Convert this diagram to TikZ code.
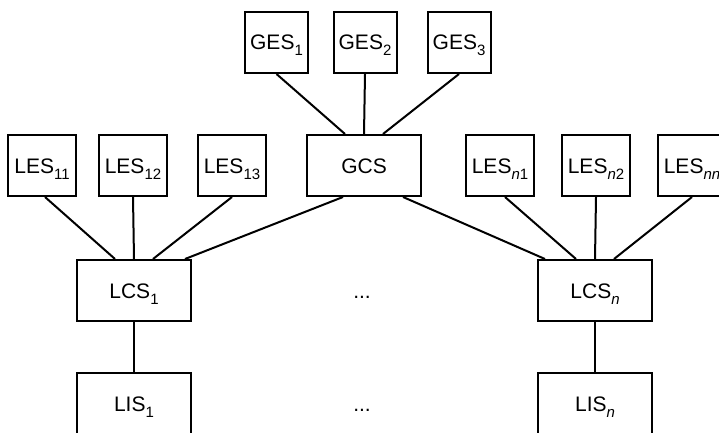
\documentclass[tikz,border=0pt]{standalone}
\usepackage{fontspec}
\setmainfont{Liberation Sans}
\usetikzlibrary{calc}
\newcommand{\sbx}[1]{\raisebox{-6pt}{\fontsize{15}{15}\selectfont #1}}
\begin{document}
\begin{tikzpicture}[x=1pt,y=-1pt,
  box/.style={draw,line width=2pt,inner sep=0pt,minimum height=61pt,
    text height=15pt,text depth=0pt,font=\fontsize{21}{24}\selectfont},
  sbox/.style={box,minimum width=63pt},
  lbox/.style={box,minimum width=68pt},
  wbox/.style={box,minimum width=114pt},
  dots/.style={inner sep=0pt,text height=15pt,text depth=0pt,font=\fontsize{21}{24}\selectfont},
  link/.style={line width=2pt}]
\useasboundingbox (0,0) rectangle (719,433);
\clip (0,0) rectangle (719,433);
% global level
\node[sbox] (GES1) at (276.5,42.5) {GES\sbx{1}};
\node[sbox] (GES2) at (365,42.5) {GES\sbx{2}};
\node[sbox] (GES3) at (459,42.5) {GES\sbx{3}};
\node[wbox] (GCS) at (364,165.5) {GCS};
% local element systems
\node[lbox] (LES11) at (42,165.5) {LES\sbx{11}};
\node[lbox] (LES12) at (133,165.5) {LES\sbx{12}};
\node[lbox] (LES13) at (232,165.5) {LES\sbx{13}};
\node[lbox] (LESn1) at (500,165.5) {LES\sbx{\textit{n}1}};
\node[lbox] (LESn2) at (596,165.5) {LES\sbx{\textit{n}2}};
\node[lbox] (LESnn) at (692,165.5) {LES\sbx{\textit{nn}}};
% local control systems
\node[wbox] (LCS1) at (134,290.5) {LCS\sbx{1}};
\node[wbox] (LCSn) at (595,290.5) {LCS\sbx{\textit{n}}};
\node[dots] (d1) at (362,290.5) {...};
% local information systems
\node[wbox] (LIS1) at (134,403.5) {LIS\sbx{1}};
\node[wbox] (LISn) at (595,403.5) {LIS\sbx{\textit{n}}};
\node[dots] (d2) at (362,403.5) {...};
% connectors
\draw[link] (GES1.south) -- ($(GCS.north)+(-19,0)$);
\draw[link] (GES2.south) -- (GCS.north);
\draw[link] (GES3.south) -- ($(GCS.north)+(19,0)$);
\draw[link] ($(LES11.south)+(3,0)$) -- ($(LCS1.north)+(-19,0)$);
\draw[link] (LES12.south) -- (LCS1.north);
\draw[link] (LES13.south) -- ($(LCS1.north)+(19,0)$);
\draw[link] ($(GCS.south)+(-21,0)$) -- ($(LCS1.north)+(51,0)$);
\draw[link] ($(GCS.south)+(39,0)$) -- ($(LCSn.north)+(-50,0)$);
\draw[link] ($(LESn1.south)+(5,0)$) -- ($(LCSn.north)+(-19,0)$);
\draw[link] (LESn2.south) -- (LCSn.north);
\draw[link] (LESnn.south) -- ($(LCSn.north)+(19,0)$);
\draw[link] (LCS1) -- (LIS1);
\draw[link] (LCSn) -- (LISn);
\end{tikzpicture}
\end{document}
